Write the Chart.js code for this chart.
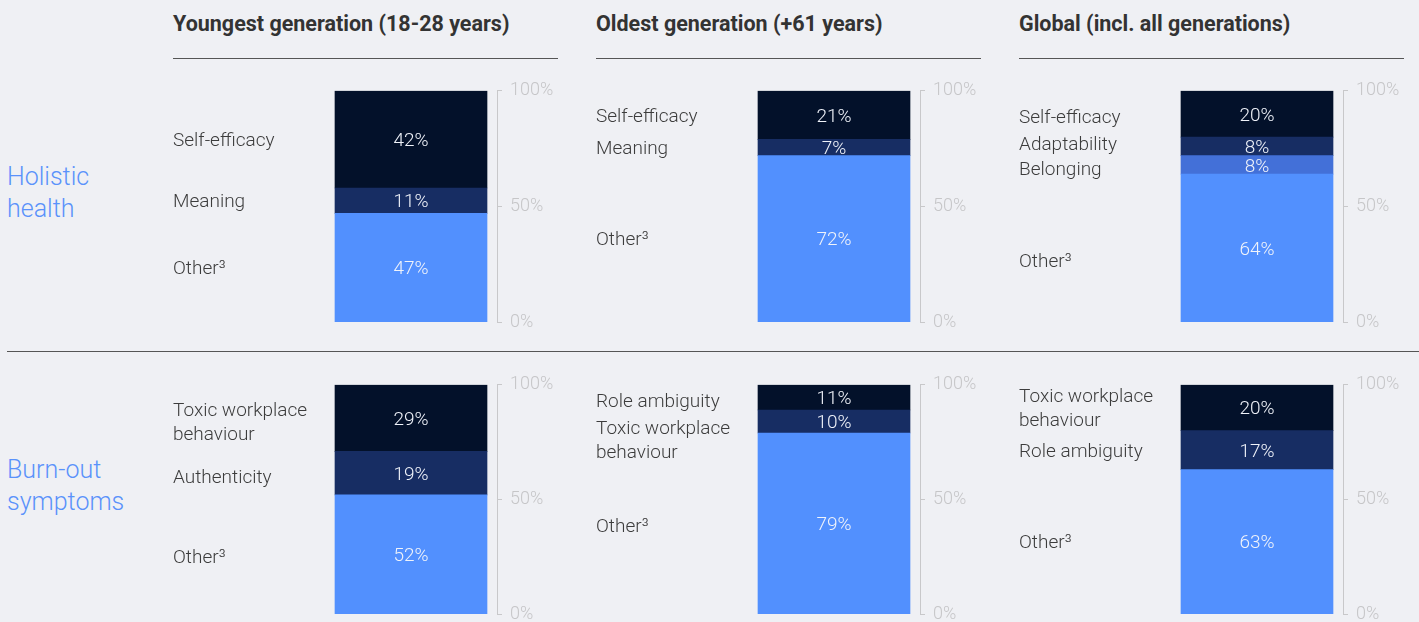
<!DOCTYPE html>
<html>
<head>
<meta charset="utf-8">
<script src="https://cdn.jsdelivr.net/npm/chart.js@4/dist/chart.umd.min.js"></script>
<style>
  html, body { margin: 0; padding: 0; }
  body {
    width: 1419px; height: 622px; overflow: hidden; position: relative;
    background: #eff0f4; font-family: Roboto, "Liberation Sans", sans-serif;
  }
  .title { position: absolute; top: 11px; font-size: 21.5px; font-weight: 700; color: #333; line-height: 26px; white-space: nowrap; }
  .rule { position: absolute; height: 1px; background: #555; }
  .rowlabel { position: absolute; left: 7px; font-size: 25px; font-weight: 300; color: #5a92fb; line-height: 32px; }
  canvas { position: absolute; }
</style>
</head>
<body>
<script>
// column / row headings
const columnTitles = ['Youngest generation (18-28 years)', 'Oldest generation (+61 years)', 'Global (incl. all generations)'];
const rowTitles = [['Holistic', 'health'], ['Burn-out', 'symptoms']];

// segments listed top to bottom
const youngHolisticLabels = ['Self-efficacy', 'Meaning', 'Other³'];
const youngHolisticValues = [42, 11, 47];
const oldHolisticLabels = ['Self-efficacy', 'Meaning', 'Other³'];
const oldHolisticValues = [21, 7, 72];
const globalHolisticLabels = ['Self-efficacy', 'Adaptability', 'Belonging', 'Other³'];
const globalHolisticValues = [20, 8, 8, 64];

const youngBurnoutLabels = [['Toxic workplace', 'behaviour'], 'Authenticity', 'Other³'];
const youngBurnoutValues = [29, 19, 52];
const oldBurnoutLabels = ['Role ambiguity', ['Toxic workplace', 'behaviour'], 'Other³'];
const oldBurnoutValues = [11, 10, 79];
const globalBurnoutLabels = [['Toxic workplace', 'behaviour'], 'Role ambiguity', 'Other³'];
const globalBurnoutValues = [20, 17, 63];

const yTicks = [0, 50, 100];

const topColors = ['#03112a', '#172d63', '#4370d8'];
const otherColor = '#5290fe';

// nudge = small vertical shifts (px) of the left-hand names, by segment index
const panels = [
    { row: 0, col: 0, labels: youngHolisticLabels, values: youngHolisticValues },
    { row: 0, col: 1, labels: oldHolisticLabels, values: oldHolisticValues },
    { row: 0, col: 2, labels: globalHolisticLabels, values: globalHolisticValues, nudge: { 0: 2, 1: -3, 2: 3, 3: 12 } },
    { row: 1, col: 0, labels: youngBurnoutLabels, values: youngBurnoutValues, nudge: { 0: 3, 1: 3, 2: 2 } },
    { row: 1, col: 1, labels: oldBurnoutLabels, values: oldBurnoutValues, nudge: { 0: 3, 1: 18, 2: 2 } },
    { row: 1, col: 2, labels: globalBurnoutLabels, values: globalBurnoutValues }
];

const colLeft = [173, 596, 1019];
const areaTop = [90, 384];
const areaHeight = [233, 231];
const rowLabelTop = [161, 454];
const padTop = 18, padBottom = 18;   // room Chart.js keeps above/below the plot area
const textDrop = 2;                  // optical centring of text in a segment

// static text
columnTitles.forEach((t, i) => {
    const d = document.createElement('div');
    d.className = 'title';
    d.style.left = colLeft[i] + 'px';
    d.textContent = t;
    document.body.appendChild(d);
    const r = document.createElement('div');
    r.className = 'rule';
    r.style.left = colLeft[i] + 'px';
    r.style.top = '58px';
    r.style.width = '385px';
    document.body.appendChild(r);
});
rowTitles.forEach((lines, i) => {
    const d = document.createElement('div');
    d.className = 'rowlabel';
    d.style.top = rowLabelTop[i] + 'px';
    d.innerHTML = lines.join('<br>');
    document.body.appendChild(d);
});
const sep = document.createElement('div');
sep.className = 'rule';
sep.style.left = '7px';
sep.style.top = '351px';
sep.style.width = '1412px';
document.body.appendChild(sep);

// draws segment names on the left and values inside the bar
const segmentText = {
    id: 'segmentText',
    afterDatasetsDraw(chart) {
        const ctx = chart.ctx;
        const p = chart.config.options.panel;
        const n = p.values.length;
        ctx.save();
        ctx.textBaseline = 'middle';
        for (let i = 0; i < n; i++) {
            // datasets are bottom-up, panel arrays top-down
            const bar = chart.getDatasetMeta(n - 1 - i).data[0];
            const cy = (bar.y + bar.base) / 2 + textDrop;
            ctx.fillStyle = '#f0f3fa';
            ctx.textAlign = 'center';
            ctx.font = '300 19px Roboto, "Liberation Sans", sans-serif';
            ctx.fillText(p.values[i] + '%', bar.x, cy);

            const lines = Array.isArray(p.labels[i]) ? p.labels[i] : [p.labels[i]];
            const shift = (p.nudge && p.nudge[i]) || 0;
            ctx.fillStyle = '#3c3c3c';
            ctx.textAlign = 'left';
            lines.forEach((line, k) => {
                const y = cy + shift + (k - (lines.length - 1) / 2) * 24;
                ctx.fillText(line, 0, y);
            });
        }
        ctx.restore();
    }
};

panels.forEach(p => {
    const canvas = document.createElement('canvas');
    const w = 389, h = areaHeight[p.row] + padTop + padBottom;
    canvas.width = w;
    canvas.height = h;
    canvas.style.width = w + 'px';
    canvas.style.height = h + 'px';
    canvas.style.left = colLeft[p.col] + 'px';
    canvas.style.top = (areaTop[p.row] - padTop) + 'px';
    document.body.appendChild(canvas);

    const n = p.values.length;
    const datasets = [];
    for (let i = n - 1; i >= 0; i--) {
        datasets.push({
            data: [p.values[i]],
            backgroundColor: i === n - 1 ? otherColor : topColors[i],
            borderWidth: 0,
            barThickness: 152
        });
    }

    new Chart(canvas.getContext('2d'), {
        type: 'bar',
        data: { labels: [''], datasets: datasets },
        options: {
            panel: p,
            responsive: false,
            animation: false,
            devicePixelRatio: 1,
            layout: { padding: { left: 152, top: 0, bottom: 0, right: 0 } },
            plugins: { legend: { display: false }, tooltip: { enabled: false } },
            scales: {
                x: { stacked: true, display: false },
                y: {
                    stacked: true,
                    position: 'right',
                    min: 0,
                    max: 100,
                    afterBuildTicks: s => { s.ticks = yTicks.map(v => ({ value: v })); },
                    afterFit: s => { s.width = 65; },
                    ticks: {
                        color: '#c6c6c8',
                        padding: 8,
                        font: { family: 'Roboto, "Liberation Sans", sans-serif', size: 18, weight: 300 },
                        callback: v => v + '%'
                    },
                    grid: { drawOnChartArea: false, tickLength: 5, color: '#c8c8ca' },
                    border: { color: '#c8c8ca' }
                }
            }
        },
        plugins: [segmentText]
    });
});
</script>
</body>
</html>
